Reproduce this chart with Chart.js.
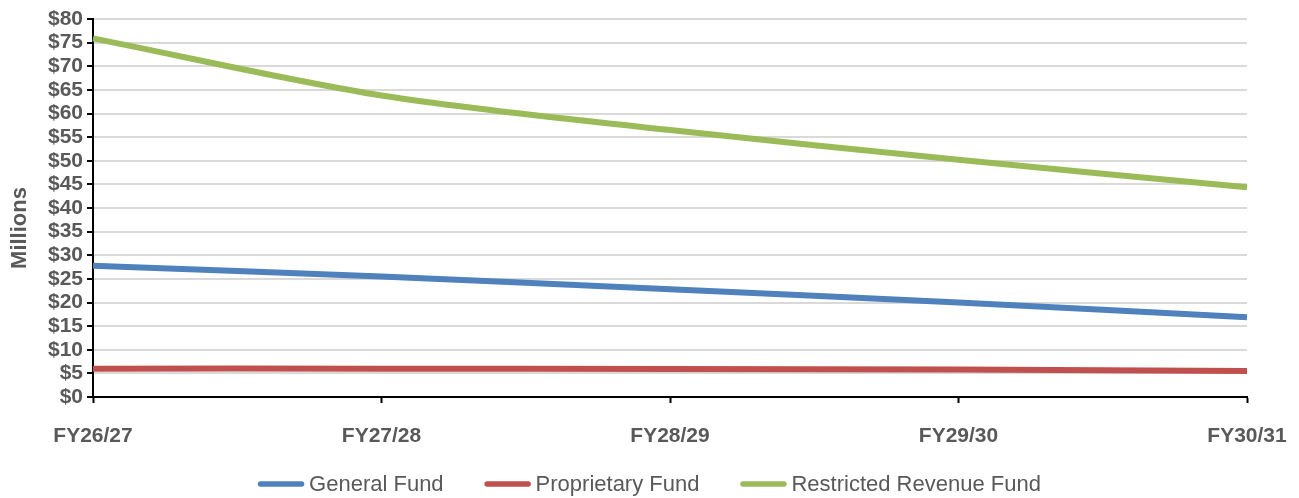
<!DOCTYPE html>
<html>
<head>
<meta charset="utf-8">
<script src="https://cdn.jsdelivr.net/npm/chart.js@4.4.1/dist/chart.umd.min.js"></script>
<style>
  html, body { margin: 0; padding: 0; background: #ffffff; }
  #wrap { width: 1299px; height: 498px; position: relative; }
  canvas { display: block; }
</style>
</head>
<body>
<div id="wrap"><canvas id="chart" width="1299" height="498"></canvas></div>
<script>
// Fiscal years on the x axis
const categories = ['FY26/27', 'FY27/28', 'FY28/29', 'FY29/30', 'FY30/31'];

// Fund balances, $ millions
const generalFund = [27.8, 25.5, 22.8, 20.0, 16.9];
const proprietaryFund = [6.0, 6.0, 5.9, 5.8, 5.5];
const restrictedRevenueFund = [75.9, 63.8, 56.5, 50.2, 44.4];

const seriesNames = ['General Fund', 'Proprietary Fund', 'Restricted Revenue Fund'];
const seriesColors = ['#4F81BD', '#C0504D', '#9BBB59'];

// Value axis range and step
const yMin = 0;
const yMax = 80;
const yStep = 5;
const yAxisTitle = 'Millions';

const FONT = '"Liberation Sans", Arial, sans-serif';
const TEXT = '#595959';

// Rotated value-axis caption
const axisTitlePlugin = {
  id: 'axisTitle',
  afterDraw(chart) {
    const { ctx, chartArea } = chart;
    ctx.save();
    ctx.translate(20, (chartArea.top + chartArea.bottom) / 2 + 20);
    ctx.rotate(-Math.PI / 2);
    ctx.font = 'bold 22px ' + FONT;
    ctx.fillStyle = TEXT;
    ctx.textAlign = 'center';
    ctx.textBaseline = 'middle';
    ctx.fillText(yAxisTitle, 0, 0);
    ctx.restore();
  }
};

// Legend row with line swatches, centred under the plot
const lineLegendPlugin = {
  id: 'lineLegend',
  afterDraw(chart) {
    const ctx = chart.ctx;
    ctx.save();
    ctx.font = '22px ' + FONT;
    const swatch = 46, textGap = 5, itemGap = 41;
    const items = chart.data.datasets.map(d => ({
      text: d.label, color: d.borderColor, w: ctx.measureText(d.label).width
    }));
    const total = items.reduce((s, it) => s + swatch + textGap + it.w, 0) + itemGap * (items.length - 1);
    let x = (chart.width - total) / 2;
    const y = 484;
    items.forEach(it => {
      ctx.strokeStyle = it.color;
      ctx.lineWidth = 5.5;
      ctx.lineCap = 'round';
      ctx.beginPath();
      ctx.moveTo(x + 2.5, y);
      ctx.lineTo(x + swatch - 2.5, y);
      ctx.stroke();
      ctx.fillStyle = TEXT;
      ctx.textAlign = 'left';
      ctx.textBaseline = 'middle';
      ctx.fillText(it.text, x + swatch + textGap, y + 1);
      x += swatch + textGap + it.w + itemGap;
    });
    ctx.restore();
  }
};

const seriesData = [generalFund, proprietaryFund, restrictedRevenueFund];

new Chart(document.getElementById('chart'), {
  type: 'line',
  data: {
    labels: categories,
    datasets: seriesNames.map((name, i) => ({
      label: name,
      data: seriesData[i],
      borderColor: seriesColors[i],
      backgroundColor: seriesColors[i],
      borderWidth: 6,
      borderCapStyle: 'butt',
      pointRadius: 0,
      pointHoverRadius: 0,
      tension: 0.3,
      fill: false
    }))
  },
  options: {
    responsive: false,
    animation: false,
    events: [],
    layout: { padding: { left: 0, right: 52, top: 19, bottom: 41 } },
    plugins: {
      legend: { display: false },
      tooltip: { enabled: false }
    },
    scales: {
      x: {
        offset: false,
        afterFit(scale) {
          scale.height = 60;
          scale.paddingLeft = 0;
          scale.paddingRight = 0;
        },
        grid: {
          display: true,
          drawOnChartArea: false,
          drawTicks: true,
          tickLength: 6,
          tickColor: '#000000',
          tickWidth: 2
        },
        border: { display: true, color: '#000000', width: 2 },
        ticks: {
          color: TEXT,
          font: { family: FONT, size: 21, weight: 'bold' },
          padding: 21,
          maxRotation: 0,
          autoSkip: false
        }
      },
      y: {
        min: yMin,
        max: yMax,
        afterFit(scale) {
          scale.width = 93;
          scale.paddingTop = 0;
          scale.paddingBottom = 0;
        },
        grid: {
          color: '#d9d9d9',
          lineWidth: 2,
          drawTicks: true,
          tickLength: 6,
          tickColor: '#000000',
          tickWidth: 2
        },
        border: { display: true, color: '#000000', width: 2 },
        ticks: {
          stepSize: yStep,
          autoSkip: false,
          color: TEXT,
          font: { family: FONT, size: 21, weight: 'bold' },
          padding: 4,
          callback: v => '$' + v
        }
      }
    }
  },
  plugins: [axisTitlePlugin, lineLegendPlugin]
});
</script>
</body>
</html>
